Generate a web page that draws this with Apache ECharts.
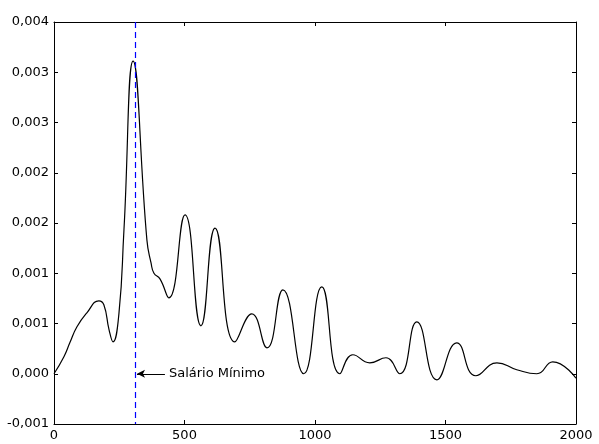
<!DOCTYPE html>
<html>
<head>
<meta charset="utf-8">
<script src="https://cdn.jsdelivr.net/npm/echarts@6/dist/echarts.min.js"></script>
<style>
  html, body { margin: 0; padding: 0; background: #fff; }
  #chart { width: 599px; height: 444px; }
</style>
</head>
<body>
<div id="chart"></div>
<script>
// valores (picos, vales e alguns pontos intermediários)
var salaryX = [0, 38, 61, 88, 126, 172, 191, 211, 226, 249,
  268, 303, 356, 372, 383, 406, 440, 502,
  563, 617, 693, 758, 816, 877, 957, 1026, 1095, 1145,
  1210, 1272, 1325, 1390, 1467, 1543, 1616, 1697, 1773, 1850,
  1911, 2000];
var density = [0, 0.000169, 0.00031, 0.000467, 0.000606, 0.000726, 0.000686, 0.000437, 0.000318, 0.000606,
  0.00143, 0.00311, 0.00133, 0.0011, 0.0010, 0.000944, 0.000755, 0.00158,
  0.000477, 0.00145, 0.000318, 0.000596, 0.000258, 0.000835, 0, 0.000865, 0, 0.000189,
  0.000109, 0.000159, 0, 0.000517, -0.00006, 0.000308, -0.00002, 0.000109, 0.00004, 0,
  0.000119, -0.000045];

var minWage = 310;
var xTicks = ['0', '500', '1000', '1500', '2000'];
var yTickLabels = ['-0,001', '0,000', '0,001', '0,001', '0,002', '0,002', '0,003', '0,003', '0,004'];
var yMin = -0.0005, yMax = 0.0035, yStep = 0.0005;

var chart = echarts.init(document.getElementById('chart'));

var font = { fontFamily: 'DejaVu Sans', fontSize: 13, color: '#000' };
var boxLine = { show: true, onZero: false, lineStyle: { color: '#000', width: 1 } };
var tick = { show: true, inside: true, length: 4, lineStyle: { color: '#000' } };

var xBase = { type: 'value', min: 0, max: 2000, interval: 500, splitLine: { show: false },
  axisLine: boxLine, axisTick: tick };
var yBase = { type: 'value', min: yMin, max: yMax, interval: yStep, splitLine: { show: false },
  axisLine: boxLine, axisTick: tick };

chart.setOption({
  animation: false,
  grid: { left: 54, right: 23, top: 22, bottom: 20 },
  xAxis: [
    Object.assign({}, xBase, {
      position: 'bottom',
      axisLabel: Object.assign({ margin: 5, formatter: function (v) { return xTicks[Math.round(v / 500)]; } }, font)
    }),
    Object.assign({}, xBase, { position: 'top', axisLabel: { show: false } })
  ],
  yAxis: [
    Object.assign({}, yBase, {
      position: 'left',
      axisLabel: Object.assign({ margin: 5, formatter: function (v) {
        return yTickLabels[Math.round((v - yMin) / yStep)];
      } }, font)
    }),
    Object.assign({}, yBase, { position: 'right', axisLabel: { show: false } })
  ],
  series: [{
    type: 'line',
    data: salaryX.map(function (x, i) { return [x, density[i]]; }),
    smooth: 0.5,
    showSymbol: false,
    lineStyle: { color: '#000', width: 1.2 },
    markLine: {
      silent: true,
      animation: false,
      data: [
        [{ coord: [minWage, yMax], symbol: 'none' },
         { coord: [minWage, yMin], symbol: 'none',
           lineStyle: { color: '#0000ff', type: [6, 4], width: 1.2 }, label: { show: false } }],
        [{ coord: [425, 0], symbol: 'none' },
         { coord: [318, 0], symbol: 'arrow', symbolSize: [6, 8],
           lineStyle: { color: '#000', type: 'solid', width: 1 },
           label: Object.assign({ show: true, position: 'start', distance: 4,
             formatter: 'Salário Mínimo' }, font) }]
      ]
    }
  }]
});
</script>
</body>
</html>
